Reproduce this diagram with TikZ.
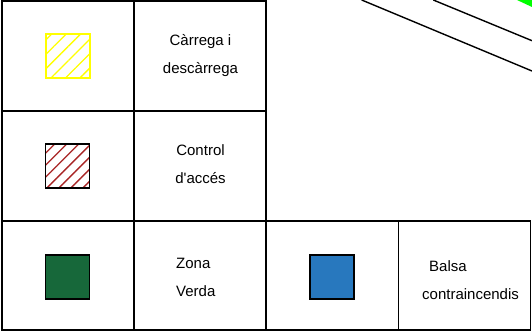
\documentclass[tikz,border=0pt]{standalone}
\usepackage{fontspec}
\setmainfont{Liberation Sans}
\usetikzlibrary{patterns.meta}
\definecolor{hatchyellow}{HTML}{FFFF00}
\definecolor{hatchred}{HTML}{A82424}
\definecolor{zonegreen}{HTML}{17683A}
\definecolor{poolblue}{HTML}{2878BE}
\definecolor{roadgreen}{HTML}{00FF00}

\begin{document}
\begin{tikzpicture}[x=1pt,y=-1pt,
  grid/.style={line width=1.6pt,black},
  swatch/.style={draw,minimum size=44pt,inner sep=0pt,line width=1.5pt},
  lab/.style={font=\fontsize{15}{28}\selectfont,inner sep=0pt}]
\useasboundingbox (0,0) rectangle (532,331);
% corner of the plan, top right
\fill[roadgreen] (517,0)--(532,0)--(532,7)--cycle;
\draw[line width=1.4pt] (361.7,0)--(532,71);
\draw[line width=1.4pt] (433.3,0)--(532,40.7);
% legend table
\draw[grid] (2,1) rectangle (266,221);
\draw[grid] (2,111)--(266,111) (134,1)--(134,330);
\draw[grid] (2,221) rectangle (530.3,330) (266,221)--(266,330) (398.5,221)--(398.5,330);
% swatches
\node[swatch,draw=hatchyellow,pattern={Lines[angle=45,distance=10.2pt,line width=1.3pt]},pattern color=hatchyellow] (carrega) at (67.8,55.9) {};
\node[swatch,pattern={Lines[angle=45,distance=8.5pt,line width=1.3pt]},pattern color=hatchred] (control) at (67.7,165.9) {};
\node[swatch,fill=zonegreen] (verda) at (67.7,277) {};
\node[swatch,fill=poolblue] (balsa) at (332,277) {};
% labels (base = last line)
\node[lab,align=center,anchor=base] (carregalab) at (200.5,73.5) {Càrrega i\\descàrrega};
\node[lab,align=center,anchor=base] (controllab) at (200.5,183.5) {Control\\d\textquotesingle accés};
\node[lab,align=left,anchor=base west] (verdalab) at (176,296.2) {Zona\\Verda};
\node[lab,align=left,anchor=base west] (balsalab) at (422,299.3) {\hspace*{7pt}Balsa\\contraincendis};
\end{tikzpicture}
\end{document}
